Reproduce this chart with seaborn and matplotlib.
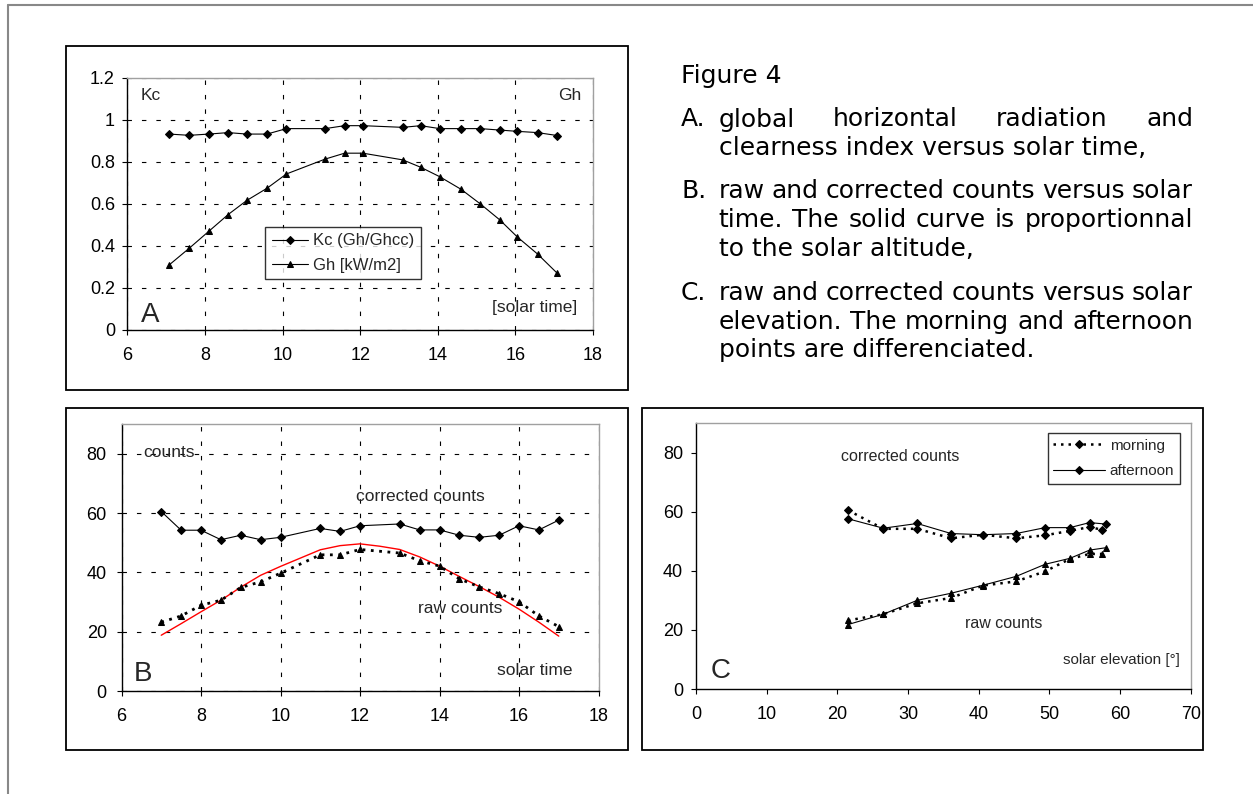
"""Figure 4: solar radiation, clearness index and counts (three panels + caption)."""

import matplotlib
matplotlib.use("Agg")
import matplotlib.pyplot as plt
from matplotlib.patches import Rectangle
from matplotlib.lines import Line2D
from matplotlib.ticker import FuncFormatter
import seaborn as sns

# ---- panel A: clearness index and global horizontal radiation vs solar time
time_a = [7.08, 7.6, 8.1, 8.6, 9.08, 9.6, 10.1, 11.1, 11.6, 12.07,
          13.1, 13.56, 14.05, 14.6, 15.1, 15.6, 16.05, 16.57, 17.08]
kc_a = [0.933, 0.927, 0.933, 0.94, 0.933, 0.933, 0.959, 0.959, 0.973, 0.973,
        0.965, 0.973, 0.959, 0.959, 0.959, 0.952, 0.946, 0.94, 0.926]
gh_a = [0.31, 0.39, 0.47, 0.55, 0.617, 0.675, 0.743, 0.814, 0.842, 0.842,
        0.81, 0.775, 0.73, 0.67, 0.6, 0.524, 0.443, 0.362, 0.27]

# ---- panel B: raw / corrected counts vs solar time
time_b = [7, 7.5, 8, 8.5, 9, 9.5, 10, 11, 11.5, 12,
          13, 13.5, 14, 14.5, 15, 15.5, 16, 16.5, 17]
corrected_b = [60.5, 54.2, 54.2, 51.0, 52.5, 51.0, 51.8, 54.8, 53.8, 55.7,
               56.3, 54.3, 54.3, 52.5, 51.8, 52.5, 55.7, 54.3, 57.6]
raw_b = [23.2, 25.3, 28.9, 30.6, 34.9, 36.8, 39.7, 45.9, 45.9, 47.7,
         46.5, 43.9, 42.1, 37.8, 35.1, 32.8, 30.1, 25.3, 21.7]
altitude_time = [7, 7.5, 8, 8.5, 9, 9.5, 10, 10.5, 11, 11.5, 12,
                 12.5, 13, 13.5, 14, 14.5, 15, 15.5, 16, 16.5, 17]
altitude_b = [18.8, 22.7, 26.7, 30.6, 35.0, 39.0, 42.0, 44.8, 47.6, 49.0, 49.6,
              48.8, 47.7, 45.2, 42.1, 38.6, 35.2, 31.6, 27.6, 23.2, 18.5]

# ---- panel C: counts vs solar elevation, morning / afternoon
elev_morning = [21.5, 26.5, 31.3, 36.1, 40.6, 45.3, 49.4, 52.9, 55.7, 57.4]
corr_morning = [60.5, 54.2, 54.2, 51.0, 52.2, 51.0, 52.0, 53.5, 54.8, 53.9]
raw_morning = [23.2, 25.3, 29.0, 30.8, 35.0, 36.4, 39.8, 44.0, 45.7, 45.7]
elev_afternoon = [21.5, 26.5, 31.3, 36.1, 40.6, 45.3, 49.4, 52.9, 55.7, 58.0]
corr_afternoon = [57.6, 54.4, 56.0, 52.6, 52.2, 52.6, 54.6, 54.6, 56.3, 55.8]
raw_afternoon = [21.8, 25.3, 30.0, 32.4, 35.1, 38.1, 42.2, 44.2, 47.0, 47.8]

xticks_time = [6, 8, 10, 12, 14, 16, 18]
yticks_a = [0, 0.2, 0.4, 0.6, 0.8, 1.0, 1.2]
yticks_counts = [0, 20, 40, 60, 80]
xticks_elev = [0, 10, 20, 30, 40, 50, 60, 70]

W, H = 1253, 794

sns.set_style("ticks")
plt.rcParams["font.family"] = ["Liberation Sans", "DejaVu Sans"]

fig = plt.figure(figsize=(W / 100, H / 100), dpi=100)


def px_axes(left, top, right, bottom):
    return fig.add_axes([left / W, 1 - bottom / H, (right - left) / W, (bottom - top) / H])


def style(ax, grid, ypad, xpad=8.5):
    for s in ("left", "bottom"):
        ax.spines[s].set_color("black")
        ax.spines[s].set_linewidth(1.0)
    for s in ("top", "right"):
        ax.spines[s].set_visible(True)
        ax.spines[s].set_color("#a0a0a0")
        ax.spines[s].set_linewidth(1.0)
    ax.tick_params(axis="both", direction="out", length=3.6, width=0.8,
                   labelsize=13, colors="black", left=True, bottom=True)
    ax.tick_params(axis="y", pad=ypad)
    ax.tick_params(axis="x", pad=xpad)
    if grid:
        ax.grid(True, color="black", lw=0.8, linestyle=(0, (4, 9)))
    ax.set_axisbelow(True)
    ax.set_xlabel("")
    ax.set_ylabel("")


line_kw = dict(color="black", linewidth=0.8, markeredgecolor="black", estimator=None)

# ---------------- panel A
axA = px_axes(127.3, 78, 593, 330)
sns.lineplot(x=time_a, y=kc_a, marker="D", markersize=4, label="Kc (Gh/Ghcc)", ax=axA, **line_kw)
sns.lineplot(x=time_a, y=gh_a, marker="^", markersize=5, label="Gh [kW/m2]", ax=axA, **line_kw)
axA.set_xlim(6, 18)
axA.set_ylim(0, 1.2)
axA.set_xticks(xticks_time)
axA.set_yticks(yticks_a)
axA.yaxis.set_major_formatter(FuncFormatter(lambda v, _: f"{v:g}"))
style(axA, True, ypad=5.3)
leg = axA.legend(loc="upper left", bbox_to_anchor=(0.296, 0.41), frameon=True,
                 fancybox=False, edgecolor="black", fontsize=12, handlelength=2.2,
                 borderpad=0.4, labelspacing=0.55, handletextpad=0.3, borderaxespad=0)
leg.get_frame().set_linewidth(1.0)
axA.text(0.029, 0.913, "Kc", transform=axA.transAxes, fontsize=12.5, va="baseline")
axA.text(0.976, 0.913, "Gh", transform=axA.transAxes, fontsize=12.5, va="baseline", ha="right")
axA.text(0.029, 0.033, "A", transform=axA.transAxes, fontsize=20, va="baseline")
axA.text(0.9656, 0.07, "[solar time]", transform=axA.transAxes, fontsize=12.5,
         va="baseline", ha="right")

# ---------------- panel B
axB = px_axes(121.5, 424, 598.5, 691)
sns.lineplot(x=altitude_time, y=altitude_b, color="red", linewidth=1.0, estimator=None, ax=axB)
sns.lineplot(x=time_b, y=corrected_b, marker="D", markersize=4, ax=axB, **line_kw)
sns.lineplot(x=time_b, y=raw_b, marker="^", markersize=5, color="black",
             linewidth=2.0, linestyle=(0, (1, 2)), markeredgecolor="black",
             estimator=None, ax=axB)
axB.set_xlim(6, 18)
axB.set_ylim(0, 90)
axB.set_xticks(xticks_time)
axB.set_yticks(yticks_counts)
style(axB, True, ypad=7)
axB.text(0.045, 0.876, "counts", transform=axB.transAxes, fontsize=12.5, va="baseline")
axB.text(0.4916, 0.7116, "corrected counts", transform=axB.transAxes, fontsize=12.5, va="baseline")
axB.text(0.622, 0.292, "raw counts", transform=axB.transAxes, fontsize=12.5, va="baseline")
axB.text(0.026, 0.037, "B", transform=axB.transAxes, fontsize=20, va="baseline")
axB.text(0.9465, 0.06, "solar time", transform=axB.transAxes, fontsize=12.5,
         va="baseline", ha="right")

# ---------------- panel C
axC = px_axes(696, 423, 1190.7, 689)
sns.lineplot(x=elev_morning, y=corr_morning, marker="D", markersize=4, color="black",
             linewidth=1.8, linestyle=(0, (1, 2)), markeredgecolor="black",
             estimator=None, label="morning", ax=axC)
sns.lineplot(x=elev_morning, y=raw_morning, marker="^", markersize=5, color="black",
             linewidth=1.8, linestyle=(0, (1, 2)), markeredgecolor="black",
             estimator=None, ax=axC)
sns.lineplot(x=elev_afternoon, y=corr_afternoon, marker="D", markersize=4,
             label="afternoon", ax=axC, **line_kw)
sns.lineplot(x=elev_afternoon, y=raw_afternoon, marker="^", markersize=5, ax=axC, **line_kw)
axC.set_xlim(0, 70)
axC.set_ylim(0, 90)
axC.set_xticks(xticks_elev)
axC.set_yticks(yticks_counts)
style(axC, False, ypad=5.8)
legC = axC.legend(loc="upper left", bbox_to_anchor=(0.711, 0.962), frameon=True,
                  fancybox=False, edgecolor="black", fontsize=11, handlelength=3.4,
                  borderpad=0.36, labelspacing=0.75, handletextpad=0.3, borderaxespad=0)
legC.get_frame().set_linewidth(1.0)
axC.text(0.294, 0.857, "corrected counts", transform=axC.transAxes, fontsize=11.5, va="baseline")
axC.text(0.543, 0.229, "raw counts", transform=axC.transAxes, fontsize=11.5, va="baseline")
axC.text(0.030, 0.043, "C", transform=axC.transAxes, fontsize=20, va="baseline")
axC.text(0.979, 0.094, "solar elevation [°]", transform=axC.transAxes, fontsize=11,
         va="baseline", ha="right")

# ---------------- panel frames and page border
for left, top, right, bottom in [(65.5, 46, 628, 390), (65.5, 407.6, 628, 750),
                                 (641.7, 407.6, 1202.6, 750)]:
    fig.patches.append(Rectangle((left / W, 1 - bottom / H), (right - left) / W,
                                 (bottom - top) / H, transform=fig.transFigure,
                                 fill=False, edgecolor="black", linewidth=1.3))
fig.add_artist(Line2D([8 / W, 1], [1 - 5 / H, 1 - 5 / H], color="#888888", lw=1.5))
fig.add_artist(Line2D([8 / W, 8 / W], [0, 1 - 5 / H], color="#888888", lw=1.5))

# ---------------- caption text
cap_font = dict(family="DejaVu Sans", fontsize=18, va="baseline", color="black")
renderer = fig.canvas.get_renderer()


def caption(text, x, y):
    fig.text(x / W, 1 - y / H, text, **cap_font)


def justified(text, x0, x1, y):
    words = text.split()
    items = [fig.text(0, 1 - y / H, w, **cap_font) for w in words]
    widths = [t.get_window_extent(renderer).width for t in items]
    gap = (x1 - x0 - sum(widths)) / (len(words) - 1)
    x = x0
    for t, w in zip(items, widths):
        t.set_x(x / W)
        x += w + gap


X_LABEL, X_TEXT, X_END = 681, 718.6, 1193
caption("Figure 4", X_LABEL, 82.5)
caption("A.", X_LABEL, 126.5)
justified("global horizontal radiation and", X_TEXT, X_END, 126.5)
caption("clearness index versus solar time,", X_TEXT, 154.5)
caption("B.", X_LABEL, 198.5)
justified("raw and corrected counts versus solar", X_TEXT, X_END, 198.5)
justified("time. The solid curve is proportionnal", X_TEXT, X_END, 227)
caption("to the solar altitude,", X_TEXT, 256)
caption("C.", X_LABEL, 300.5)
justified("raw and corrected counts versus solar", X_TEXT, X_END, 300.5)
justified("elevation. The morning and afternoon", X_TEXT, X_END, 329)
caption("points are differenciated.", X_TEXT, 357.5)

fig.savefig("out.png", dpi=100)
